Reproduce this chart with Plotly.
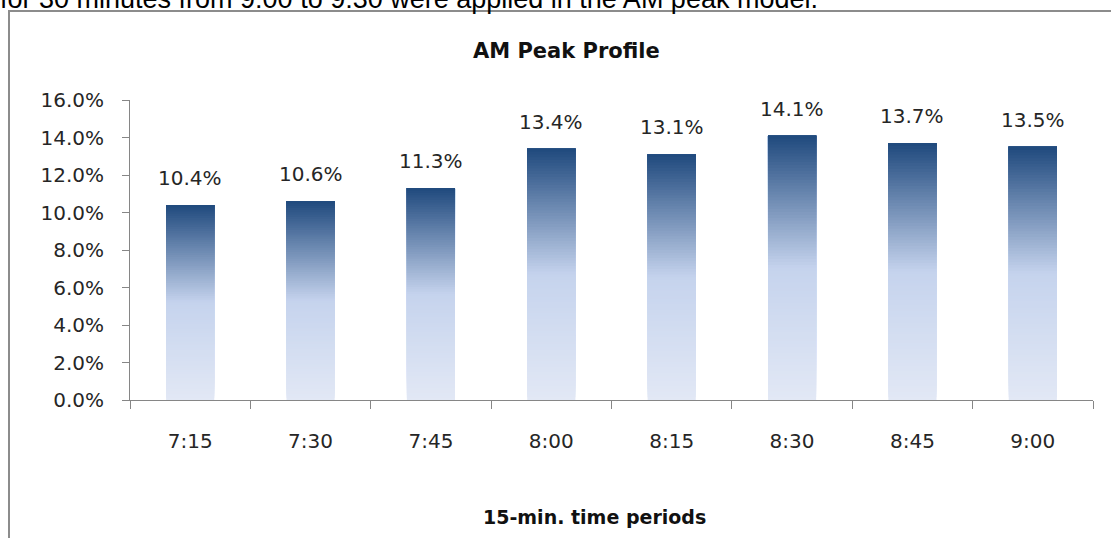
import plotly.graph_objects as go

# Share of AM peak traffic in each 15-minute period
periods = ["7:15", "7:30", "7:45", "8:00", "8:15", "8:30", "8:45", "9:00"]
shares = [0.104, 0.106, 0.113, 0.134, 0.131, 0.141, 0.137, 0.135]
y_ticks = [0.0, 0.02, 0.04, 0.06, 0.08, 0.10, 0.12, 0.14, 0.16]

# Plot-area geometry (pixels) used to place decorations outside the axes
W, H = 1111, 538
ML, MR, MT, MB = 130, 18, 100, 138
PW, PH = W - ML - MR, H - MT - MB


def px_x(px):
    return (px - ML) / PW


def px_y(py):
    return (H - MB - py) / PH


# Vertical gradient stops, 0 = top of bar, 1 = bottom
STOPS = [(0.0, (31, 73, 125)), (0.5, (197, 211, 237)), (1.0, (226, 232, 245))]


def grad_color(t):
    for (t0, c0), (t1, c1) in zip(STOPS[:-1], STOPS[1:]):
        if t0 <= t <= t1:
            f = (t - t0) / (t1 - t0)
            r, g, b = (round(a + (bb - a) * f) for a, bb in zip(c0, c1))
            return f"rgb({r},{g},{b})"
    return "rgb(226,232,245)"


fig = go.Figure()

# Gradient bars: layered bars, each starting higher up and reaching the full
# value, drawn bottom-first so every layer covers the one beneath it.
N = 90
for k in range(N):
    frac_mid = (k + 0.5) / N
    fig.add_trace(go.Bar(
        x=periods,
        y=[v * (N - k) / N for v in shares],
        base=[v * k / N for v in shares],
        width=0.4,
        marker=dict(color=grad_color(1 - frac_mid), line=dict(width=0)),
        hoverinfo="skip",
        showlegend=False,
    ))

TXT = "#262626"
FONT = "DejaVu Sans"

annotations = []
for p, v in zip(periods, shares):
    annotations.append(dict(
        x=p, y=v, xref="x", yref="y", text=f"{v * 100:.1f}%",
        showarrow=False, yanchor="bottom", yshift=13,
        font=dict(family=FONT, size=20, color=TXT),
    ))

annotations += [
    dict(x=px_x(566), y=px_y(51), xref="paper", yref="paper",
         text="<b>AM Peak Profile</b>", showarrow=False,
         xanchor="center", yanchor="middle",
         font=dict(family=FONT, size=21, color="#111")),
    dict(x=px_x(594), y=px_y(517), xref="paper", yref="paper",
         text="<b>15-min. time periods</b>", showarrow=False,
         xanchor="center", yanchor="middle",
         font=dict(family=FONT, size=19, color="#111")),
    dict(x=px_x(-2), y=px_y(16), xref="paper", yref="paper",
         text="for 30 minutes from 9:00 to 9:30 were applied in the AM peak model.",
         showarrow=False, xanchor="left", yanchor="bottom",
         font=dict(family="Liberation Sans", size=27, color="#000")),
]

# Outer chart frame (left and top edges visible)
shapes = [dict(
    type="path", xref="paper", yref="paper",
    path=f"M {px_x(9)} {px_y(560)} L {px_x(9)} {px_y(11)} L {px_x(1120)} {px_y(11)}",
    line=dict(color="#8C8C8C", width=2),
)]

fig.update_layout(
    width=W, height=H,
    margin=dict(l=ML, r=MR, t=MT, b=MB, pad=0),
    paper_bgcolor="white", plot_bgcolor="white",
    barmode="overlay", bargap=0.6,
    showlegend=False,
    annotations=annotations,
    shapes=shapes,
    xaxis=dict(
        type="category", tickson="boundaries",
        showline=True, linecolor="#868686", linewidth=1,
        ticks="outside", ticklen=8, tickcolor="#868686",
        showgrid=False, zeroline=False,
        tickfont=dict(family=FONT, size=20, color=TXT),
        ticklabelstandoff=23,
    ),
    yaxis=dict(
        range=[0, 0.16], tickvals=y_ticks, tickformat=".1%",
        showline=True, linecolor="#868686", linewidth=1,
        ticks="outside", ticklen=7, tickcolor="#868686",
        showgrid=False, zeroline=False,
        tickfont=dict(family=FONT, size=20, color=TXT),
        ticklabelstandoff=14,
    ),
)

fig.write_html("out.html")
